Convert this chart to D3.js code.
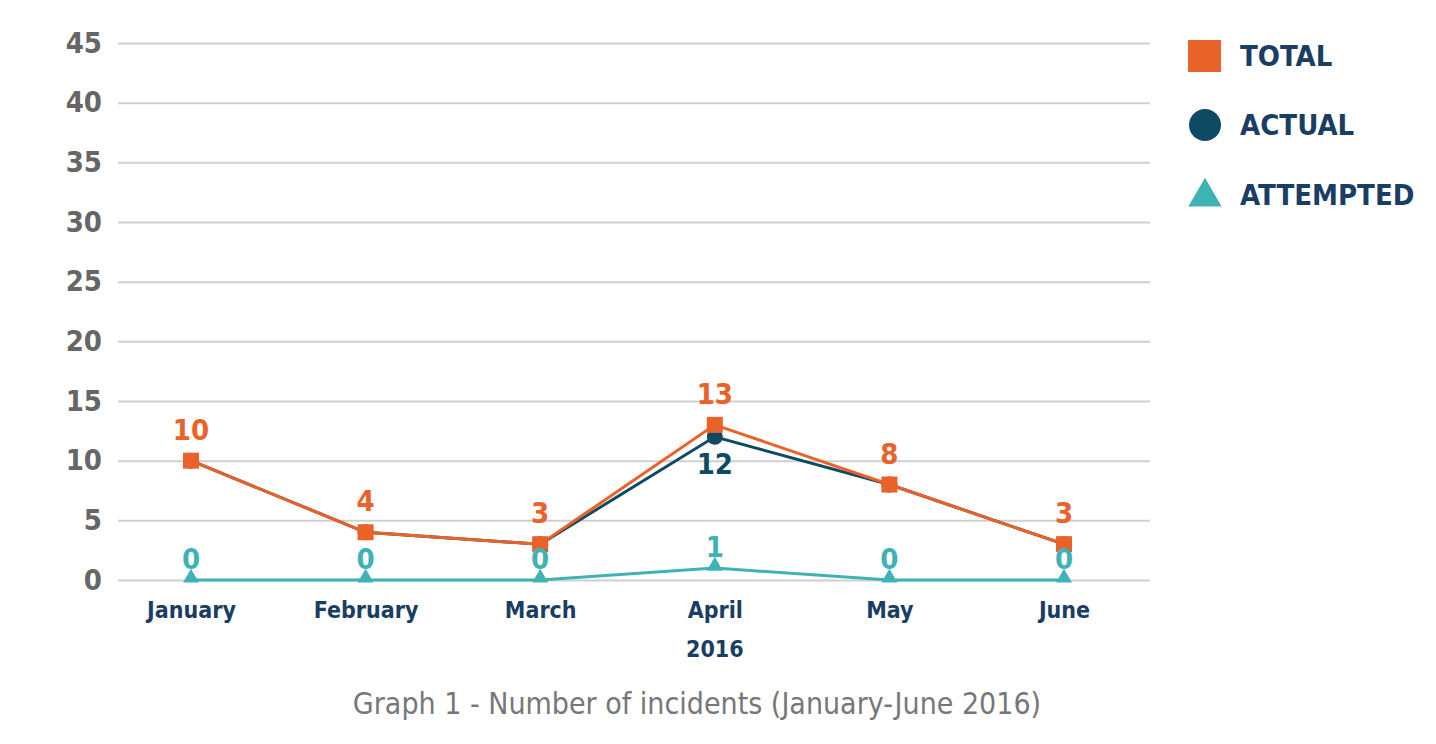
<!DOCTYPE html>
<html>
<head>
<meta charset="utf-8">
<script src="https://cdn.jsdelivr.net/npm/d3@7"></script>
<style>
  body { margin: 0; background: #fff; }
  text { font-family: "Liberation Sans Narrow", "DejaVu Sans Condensed", "Roboto", sans-serif; }
</style>
</head>
<body>
<svg width="1436" height="744"></svg>
<script>
var months = ["January", "February", "March", "April", "May", "June"];
var totalValues = [10, 4, 3, 13, 8, 3];
var actualValues = [10, 4, 3, 12, 8, 3];
var attemptedValues = [0, 0, 0, 1, 0, 0];
var yTicks = [0, 5, 10, 15, 20, 25, 30, 35, 40, 45];
var legendNames = ["TOTAL", "ACTUAL", "ATTEMPTED"];

var svg = d3.select("svg");

var x = d3.scalePoint().domain(months).range([191, 1064]);
var y = d3.scaleLinear().domain([0, 45]).range([580, 43]);

var colors = { total: "#e8622a", actual: "#0e4a63", attempted: "#3fb2b5" };
var navy = "#1a3e63";

// grid + y labels
var yAxis = svg.append("g")
    .attr("transform", "translate(118,0)")
    .call(d3.axisLeft(y).tickValues(yTicks).tickSize(-1032).tickPadding(16));
yAxis.select(".domain").remove();
yAxis.selectAll("line").attr("stroke", "#cfcfcf").attr("stroke-width", 2);
yAxis.selectAll("text")
    .attr("fill", "#666")
    .attr("font-size", 29)
    .attr("font-weight", "bold");

// x labels
var xAxis = svg.append("g")
    .attr("transform", "translate(0,602)")
    .call(d3.axisBottom(x).tickSize(0).tickPadding(0));
xAxis.select(".domain").remove();
xAxis.selectAll("text")
    .attr("fill", navy)
    .attr("font-size", 23)
    .attr("font-weight", "bold")
    .attr("dy", "0.71em");

svg.append("text")
    .attr("x", x("April"))
    .attr("y", 657)
    .attr("text-anchor", "middle")
    .attr("fill", navy)
    .attr("font-size", 23)
    .attr("font-weight", "bold")
    .text("2016");

var line = d3.line()
    .x(function(d, i) { return x(months[i]); })
    .y(function(d) { return y(d); });

// attempted
svg.append("path").datum(attemptedValues)
    .attr("d", line).attr("fill", "none")
    .attr("stroke", colors.attempted).attr("stroke-width", 3);
svg.selectAll(".tri").data(attemptedValues).enter().append("path")
    .attr("d", d3.symbol().type(d3.symbolTriangle).size(110))
    .attr("transform", function(d, i) { return "translate(" + x(months[i]) + "," + (y(d) - 2) + ")"; })
    .attr("fill", colors.attempted);

// actual
svg.append("path").datum(actualValues)
    .attr("d", line).attr("fill", "none")
    .attr("stroke", colors.actual).attr("stroke-width", 3);
svg.selectAll(".dot").data(actualValues).enter().append("circle")
    .attr("cx", function(d, i) { return x(months[i]); })
    .attr("cy", function(d) { return y(d); })
    .attr("r", 8)
    .attr("fill", colors.actual);

// total
svg.append("path").datum(totalValues)
    .attr("d", line).attr("fill", "none")
    .attr("stroke", colors.total).attr("stroke-width", 3);
svg.selectAll(".sq").data(totalValues).enter().append("rect")
    .attr("x", function(d, i) { return x(months[i]) - 8; })
    .attr("y", function(d) { return y(d) - 8; })
    .attr("width", 16).attr("height", 16)
    .attr("fill", colors.total);

// value labels
svg.selectAll(".tl").data(totalValues).enter().append("text")
    .attr("x", function(d, i) { return x(months[i]); })
    .attr("y", function(d) { return y(d) - 21; })
    .attr("text-anchor", "middle")
    .attr("fill", colors.total)
    .attr("font-size", 29).attr("font-weight", "bold")
    .text(function(d) { return d; });

svg.selectAll(".al").data(attemptedValues).enter().append("text")
    .attr("x", function(d, i) { return x(months[i]); })
    .attr("y", function(d) { return y(d) - 11; })
    .attr("text-anchor", "middle")
    .attr("fill", colors.attempted)
    .attr("font-size", 29).attr("font-weight", "bold")
    .text(function(d) { return d; });

// actual label only where it differs from total
svg.selectAll(".acl").data(actualValues.filter(function(d, i) { return d !== totalValues[i]; })).enter().append("text")
    .attr("x", function(d) { return x(months[actualValues.indexOf(d)]); })
    .attr("y", function(d) { return y(d) + 37; })
    .attr("text-anchor", "middle")
    .attr("fill", colors.actual)
    .attr("font-size", 29).attr("font-weight", "bold")
    .text(function(d) { return d; });

// legend
var legend = svg.append("g").attr("transform", "translate(1205,0)");
var legendY = [56, 125, 195];
legend.append("rect").attr("x", -17).attr("y", legendY[0] - 16).attr("width", 33).attr("height", 32).attr("fill", colors.total);
legend.append("circle").attr("cx", 0).attr("cy", legendY[1]).attr("r", 16).attr("fill", colors.actual);
legend.append("path")
    .attr("d", d3.symbol().type(d3.symbolTriangle).size(480))
    .attr("transform", "translate(0," + (legendY[2] + 2) + ")")
    .attr("fill", colors.attempted);
legend.selectAll("text").data(legendNames).enter().append("text")
    .attr("x", 35)
    .attr("y", function(d, i) { return legendY[i]; })
    .attr("dy", "0.36em")
    .attr("fill", navy)
    .attr("font-size", 29).attr("font-weight", "bold")
    .text(function(d) { return d; });

// caption
svg.append("text")
    .attr("x", 697).attr("y", 714)
    .attr("text-anchor", "middle")
    .attr("fill", "#777")
    .attr("font-size", 30)
    .text("Graph 1 - Number of incidents (January-June 2016)");
</script>
</body>
</html>
